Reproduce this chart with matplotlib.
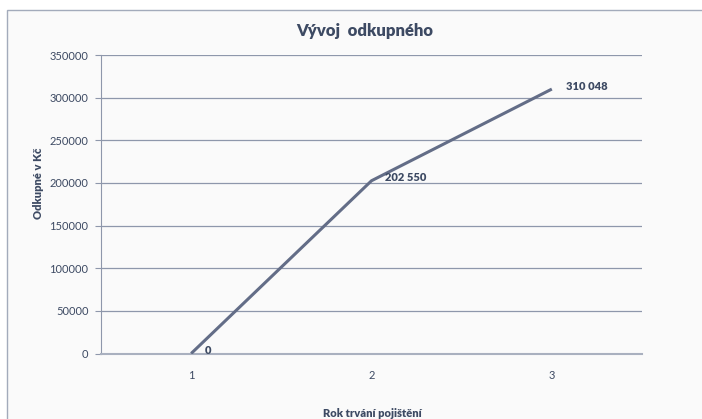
import numpy as np
import matplotlib.pyplot as plt
from matplotlib.patches import Rectangle

# odkupne (surrender value) per policy year
roky = [1, 2, 3]
odkupne = [0, 202550, 310048]
popisky = ["0", "202 550", "310 048"]
y_ticks = [0, 50000, 100000, 150000, 200000, 250000, 300000, 350000]

plt.rcParams['font.family'] = ['Lato', 'DejaVu Sans']

TEXT = '#3d4a63'
LINE = '#636d87'
GRID = '#8e97ab'

W, H = 702, 419
fig = plt.figure(figsize=(W / 100, H / 100), dpi=100)
fig.patch.set_facecolor('white')

# chart frame, runs off the right and bottom edges
frame = Rectangle((7 / W, -0.05), 1.0, 1 - 10 / H + 0.05, transform=fig.transFigure,
                  facecolor='#fafafa', edgecolor='#a3abbb', linewidth=1.0, zorder=-1)
fig.patches.append(frame)

ax = fig.add_axes([101 / W, 1 - 353.5 / H, 541 / W, 298.5 / H])
ax.set_facecolor('none')

ax.plot(roky, odkupne, color=LINE, linewidth=2.2, solid_capstyle='butt', zorder=3)
for x, y, t in zip(roky, odkupne, popisky):
    ax.annotate(t, (x, y), xytext=(10, 2), textcoords='offset points',
                ha='left', va='center', fontsize=8, fontweight='heavy', color=TEXT)

ax.set_xlim(0.5, 3.5)
ax.set_ylim(0, 350000)
ax.set_xticks(roky)
ax.set_xticklabels([str(r) for r in roky])
ax.set_yticks(y_ticks)
ax.set_yticklabels([str(v) for v in y_ticks])
ax.yaxis.grid(True, color=GRID, linewidth=0.9)
ax.set_axisbelow(True)

for s in ['top', 'right']:
    ax.spines[s].set_visible(False)
ax.spines['left'].set_color(GRID)
ax.spines['bottom'].set_color('#a9b0bf')
ax.spines['bottom'].set_linewidth(1.5)
ax.tick_params(axis='y', length=4, color=GRID, labelsize=8, labelcolor=TEXT, pad=5)
ax.tick_params(axis='x', length=0, labelsize=8, labelcolor=TEXT, pad=12)

fig.text(365 / W, 1 - 31 / H, 'Vývoj  odkupného', ha='center', va='center',
         fontsize=12, fontweight='heavy', color=TEXT)
fig.text(38 / W, 1 - 183 / H, 'Odkupné v Kč', ha='center', va='center', rotation=90,
         fontsize=8, fontweight='heavy', color=TEXT)
fig.text(372 / W, 1 - 413 / H, 'Rok trvání pojištění', ha='center', va='center',
         fontsize=8, fontweight='heavy', color=TEXT)

fig.savefig('out.png', dpi=100)
